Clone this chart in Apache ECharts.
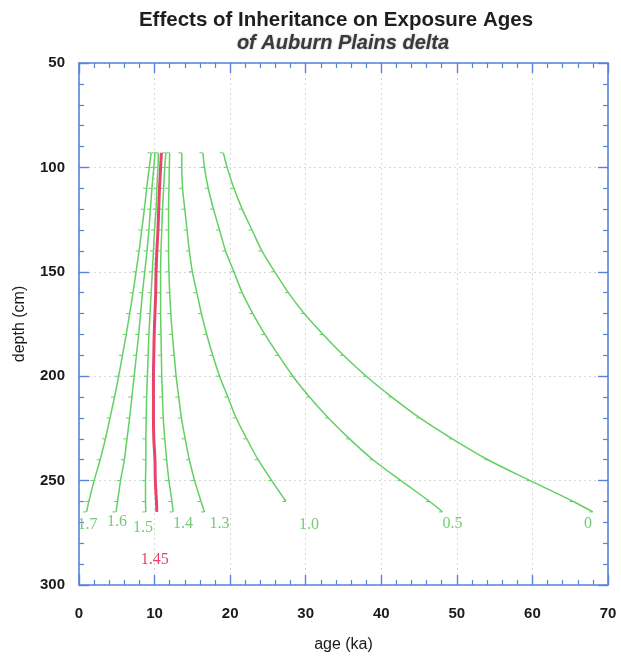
<!DOCTYPE html>
<html>
<head>
<meta charset="utf-8">
<script src="https://cdn.jsdelivr.net/npm/echarts@6/dist/echarts.min.js"></script>
<style>
  html, body { margin: 0; padding: 0; background: #fff; }
  #chart { width: 621px; height: 658px; }
</style>
</head>
<body>
<div id="chart"></div>
<script>
// Sample depths (cm) shared by every curve
const depthCm = [93, 100, 110, 120, 130, 140, 150, 160, 170, 180, 190, 200, 210, 220, 230, 240, 250, 260, 265];

// Apparent exposure age (ka) at each depth for each assumed inheritance
const curveNames = ['1.7', '1.6', '1.5', '1.45', '1.4', '1.3', '1.0', '0.5', '0'];
const age17  = [9.55, 9.3, 8.95, 8.65, 8.3, 7.95, 7.55, 7.15, 6.7, 6.25, 5.75, 5.25, 4.7, 4.1, 3.5, 2.8, 2.0, 1.3, 1.0];
const age16  = [10.05, 9.9, 9.65, 9.45, 9.25, 9.0, 8.7, 8.4, 8.15, 7.9, 7.6, 7.3, 7.0, 6.7, 6.35, 6.0, 5.5, 5.1, 4.9];
const age15  = [10.5, 10.45, 10.3, 10.2, 10.0, 9.85, 9.7, 9.55, 9.4, 9.25, 9.15, 9.05, 8.95, 8.9, 8.85, 8.85, 8.8, 8.8, 8.85];
const age145 = [10.9, 10.8, 10.65, 10.55, 10.45, 10.3, 10.2, 10.15, 10.05, 9.95, 9.9, 9.85, 9.85, 9.85, 9.9, 10.05, 10.1, 10.25, 10.3];
const age14  = [11.5, 11.35, 11.2, 11.05, 10.95, 10.85, 10.8, 10.8, 10.8, 10.85, 10.9, 10.95, 11.05, 11.15, 11.35, 11.6, 11.9, 12.3, 12.45];
const age13  = [12.0, 11.95, 11.9, 11.85, 11.85, 11.85, 11.9, 12.0, 12.15, 12.35, 12.6, 12.85, 13.2, 13.55, 14.05, 14.6, 15.3, 16.15, 16.6];
const age10  = [13.6, 13.6, 13.7, 14.0, 14.3, 14.6, 15.0, 15.6, 16.2, 16.9, 17.7, 18.6, 19.7, 20.8, 22.2, 23.7, 25.5, 27.4];
const age05  = [16.4, 16.6, 17.1, 17.8, 18.6, 19.4, 20.5, 21.6, 23.0, 24.6, 26.4, 28.3, 30.5, 33.0, 35.8, 38.9, 42.6, 46.4, 48.1];
const age00  = [19.1, 19.6, 20.5, 21.6, 22.9, 24.2, 25.9, 27.7, 29.8, 32.3, 35.0, 38.0, 41.4, 45.1, 49.4, 54.1, 59.7, 65.4, 68.0];

const ageSets = [age17, age16, age15, age145, age14, age13, age10, age05, age00];

// Axis ranges
const ageMin = 0, ageMax = 70, ageStep = 10;
const depthMin = 50, depthMax = 300, depthStep = 50;

const GREEN = '#62d062';
const GREEN_TEXT = '#74cc74';
const RED = '#e8436b';
const BLUE = '#5a82dc';

// Label placement next to the bottom end of each curve (pixel offsets)
const labelOffsets = {
  '1.7': [1, 13], '1.6': [1, 10], '1.5': [-3, 16], '1.45': [-2, 48],
  '1.4': [10, 12], '1.3': [15, 12], '1.0': [23, 23], '0.5': [10, 12], '0': [-5, 12]
};

const series = curveNames.map((name, i) => {
  const ages = ageSets[i];
  const pts = ages.map((a, k) => [a, depthCm[k]]);
  const isTrue = name === '1.45';
  const col = isTrue ? RED : GREEN;
  return {
    name: name,
    type: 'line',
    xAxisIndex: 0,
    yAxisIndex: 0,
    data: pts,
    smooth: 0.3,
    z: isTrue ? 4 : 3,
    showSymbol: true,
    showAllSymbol: true,
    symbol: 'rect',
    symbolSize: isTrue ? 0 : [3, 1],
    symbolOffset: [-2, 0],
    itemStyle: { color: col },
    lineStyle: { color: col, width: isTrue ? 3 : 1.5 },
    emphasis: { disabled: true },
    markPoint: {
      silent: true,
      symbol: 'circle',
      symbolSize: 0,
      data: [{ coord: pts[pts.length - 1] }],
      label: {
        show: true,
        position: 'inside',
        formatter: name,
        offset: labelOffsets[name],
        color: isTrue ? RED : GREEN_TEXT,
        fontFamily: 'Liberation Serif',
        fontSize: 16
      }
    }
  };
});

const tickLabelStyle = {
  color: '#1a1a1a',
  fontFamily: 'Liberation Sans',
  fontWeight: 'bold',
  fontSize: 15
};

function frameAxis(extra) {
  return Object.assign({
    type: 'value',
    axisLine: { show: true, onZero: false, lineStyle: { color: BLUE, width: 1.6 } },
    axisTick: { show: true, inside: true, length: 10, lineStyle: { color: BLUE, width: 1.4 } },
    minorTick: { show: true, splitNumber: 5, length: 5, lineStyle: { color: BLUE, width: 1.2 } },
    splitLine: { show: false },
    minorSplitLine: { show: false }
  }, extra);
}

const chart = echarts.init(document.getElementById('chart'), null, { renderer: 'canvas' });
chart.setOption({
  animation: false,
  backgroundColor: '#ffffff',
  title: [
    {
      text: 'Effects of Inheritance on Exposure Ages',
      left: 331, top: 5, textAlign: 'center',
      textStyle: { fontFamily: 'Liberation Sans', fontWeight: 'bold', fontSize: 20.5, color: '#1e1e1e' }
    },
    {
      text: 'of Auburn Plains delta',
      left: 338, top: 28, textAlign: 'center',
      textStyle: {
        fontFamily: 'Liberation Sans', fontWeight: 'bold', fontStyle: 'italic', fontSize: 20,
        color: '#3a3a3a', textShadowColor: 'rgba(0,0,0,0.35)', textShadowBlur: 2
      }
    }
  ],
  grid: { left: 79, right: 13, top: 63, bottom: 66, containLabel: false },
  xAxis: [
    frameAxis({
      position: 'bottom', min: ageMin, max: ageMax, interval: ageStep,
      name: 'age (ka)', nameLocation: 'middle', nameGap: 52,
      nameTextStyle: { fontFamily: 'Liberation Sans', fontSize: 16, color: '#1a1a1a' },
      axisLabel: Object.assign({ margin: 21 }, tickLabelStyle),
      splitLine: { show: true, lineStyle: { color: '#d8d8d8', width: 1, type: [2, 3] } }
    }),
    frameAxis({
      position: 'top', min: ageMin, max: ageMax, interval: ageStep,
      axisLabel: { show: false }
    })
  ],
  yAxis: [
    frameAxis({
      position: 'left', inverse: true, min: depthMin, max: depthMax, interval: depthStep,
      name: 'depth (cm)', nameLocation: 'middle', nameGap: 51,
      nameTextStyle: { fontFamily: 'Liberation Sans', fontSize: 16, color: '#1a1a1a' },
      axisLabel: Object.assign({ margin: 14 }, tickLabelStyle),
      splitLine: { show: true, lineStyle: { color: '#d8d8d8', width: 1, type: [2, 3] } }
    }),
    frameAxis({
      position: 'right', inverse: true, min: depthMin, max: depthMax, interval: depthStep,
      axisLabel: { show: false }
    })
  ],
  series: series
});
</script>
</body>
</html>
